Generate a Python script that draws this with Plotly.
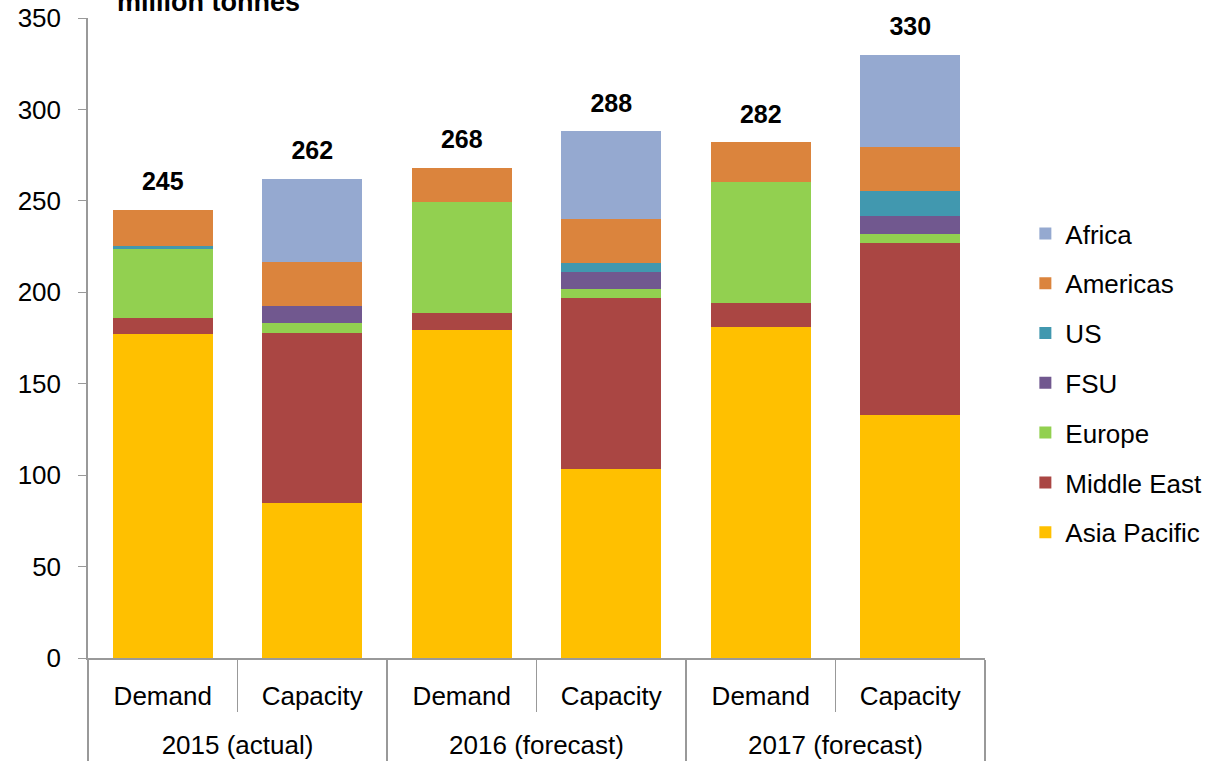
import plotly.graph_objects as go

# Category levels for the multicategory x axis
years = ["2015 (actual)", "2015 (actual)", "2016 (forecast)", "2016 (forecast)",
         "2017 (forecast)", "2017 (forecast)"]
kinds = ["Demand", "Capacity", "Demand", "Capacity", "Demand", "Capacity"]

# Regional volumes, million tonnes (bottom of stack first)
asia_pacific = [177.0, 84.5, 179.5, 103.5, 181.0, 133.0]
middle_east = [9.0, 93.5, 9.0, 93.5, 13.0, 94.0]
europe = [37.5, 5.0, 61.0, 5.0, 66.5, 5.0]
fsu = [0.0, 9.5, 0.0, 9.0, 0.0, 9.5]
us = [2.0, 0.0, 0.0, 5.0, 0.0, 14.0]
americas = [19.5, 24.0, 18.5, 24.0, 21.5, 24.0]
africa = [0.0, 45.5, 0.0, 48.0, 0.0, 50.5]

series = [
    ("Asia Pacific", asia_pacific, "#FFC000"),
    ("Middle East", middle_east, "#AA4643"),
    ("Europe", europe, "#92D050"),
    ("FSU", fsu, "#71588F"),
    ("US", us, "#4198AF"),
    ("Americas", americas, "#DB843D"),
    ("Africa", africa, "#95A9D0"),
]

totals = [sum(vals) for vals in zip(*[s[1] for s in series])]

FONT = "Liberation Sans, Arial, sans-serif"
AXIS_GREY = "#999999"

# Inner labels carry a small blank second line to open up the gap
# between the two label rows.
kind_labels = [k + "<br><span style='font-size:16px'> </span>" for k in kinds]

fig = go.Figure()
n = len(series)
for i, (name, vals, color) in enumerate(series):
    fig.add_trace(go.Bar(
        x=[years, kind_labels], y=vals, name=name,
        marker=dict(color=color, line=dict(width=0)),
        legendgroup=name,
        legendrank=n - i,  # top of the stack listed first
    ))

# Totals above each stack; the invisible marker lifts the text off the bar top
fig.add_trace(go.Scatter(
    x=[years, kind_labels], y=totals, mode="markers+text",
    marker=dict(size=20, color="rgba(0,0,0,0)"),
    text=[f"{t:.0f}" for t in totals],
    textposition="top center",
    textfont=dict(family=FONT, size=25, color="black", weight="bold"),
    showlegend=False, hoverinfo="skip", cliponaxis=False,
))

fig.add_annotation(
    text="<b>million tonnes</b>", xref="paper", yref="paper",
    x=0.03, y=1.0, xanchor="left", yanchor="bottom", showarrow=False,
    yshift=-1,
    font=dict(family=FONT, size=27, color="black"),
)

fig.update_layout(
    width=1225, height=763,
    margin=dict(l=88, r=240, t=18, b=105),
    barmode="stack", bargap=0.33,
    plot_bgcolor="white", paper_bgcolor="white",
    font=dict(family=FONT, size=26, color="black"),
    legend=dict(
        x=1.045, y=0.70, xanchor="left", yanchor="top",
        traceorder="grouped", tracegroupgap=13,
        font=dict(family=FONT, size=26, color="black"),
    ),
    showlegend=True,
)

fig.update_xaxes(
    type="multicategory", automargin=False,
    showline=True, linecolor=AXIS_GREY, linewidth=1.5,
    ticks="outside", tickson="boundaries", ticklen=52, tickcolor=AXIS_GREY,
    ticklabelstandoff=14,
    showdividers=True, dividercolor=AXIS_GREY, dividerwidth=1.5,
    showgrid=False, tickfont=dict(family=FONT, size=26, color="black"),
)
fig.update_yaxes(
    range=[0, 350], dtick=50, showgrid=False, zeroline=False, automargin=False,
    showline=True, linecolor=AXIS_GREY, linewidth=1.5,
    ticks="outside", ticklen=8, tickcolor=AXIS_GREY, ticklabelstandoff=12,
    tickfont=dict(family=FONT, size=26, color="black"),
)

fig.write_html("out.html")
